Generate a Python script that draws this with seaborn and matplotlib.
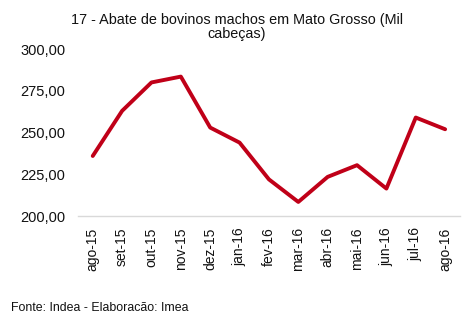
import matplotlib
matplotlib.use("Agg")
import matplotlib.pyplot as plt
import seaborn as sns
import pandas as pd
from matplotlib.ticker import FuncFormatter

months = ["ago-15", "set-15", "out-15", "nov-15", "dez-15", "jan-16", "fev-16",
          "mar-16", "abr-16", "mai-16", "jun-16", "jul-16", "ago-16"]
values = [236, 263, 280, 283.5, 253, 244, 222, 208.5, 223.5, 230.5, 216.5, 259, 252]
yticks = [200, 225, 250, 275, 300]

sns.set_theme(style="white")
plt.rcParams['font.family'] = ['Liberation Sans', 'DejaVu Sans']

df = pd.DataFrame({"mes": months, "valor": values, "pos": range(len(months))})

fig = plt.figure(figsize=(4.76, 3.29), dpi=100)
ax = fig.add_axes([0.164, 0.343, 0.802, 0.508])
sns.lineplot(data=df, x="pos", y="valor", ax=ax, color="#C00018", linewidth=2.8)

ax.set_xlim(-0.5, len(months) - 0.5)
ax.set_ylim(200, 300)
ax.set_yticks(yticks)
ax.yaxis.set_major_formatter(FuncFormatter(lambda v, p: f"{v:.2f}".replace(".", ",")))
ax.set_xticks(range(len(months)))
ax.set_xticklabels(months, rotation=90, fontsize=10, color="#111111")
ax.tick_params(axis="y", labelsize=10.5, colors="#111111", length=0, pad=9)
ax.tick_params(axis="x", length=0, pad=8)
ax.set_xlabel("")
ax.set_ylabel("")
for s in ["top", "right", "left"]:
    ax.spines[s].set_visible(False)
ax.spines["bottom"].set_color("#D9D9D9")
ax.spines["bottom"].set_linewidth(1)
ax.grid(False)

fig.text(0.497, 0.962, "17 - Abate de bovinos machos em Mato Grosso (Mil\ncabeças)",
         ha="center", va="top", fontsize=10.4, color="#111111", linespacing=1.05)
fig.text(0.023, 0.065, "Fonte: Indea - Elaboracão: Imea", ha="left", va="center",
         fontsize=8.9, color="#111111")

fig.savefig("out.png", dpi=100)
